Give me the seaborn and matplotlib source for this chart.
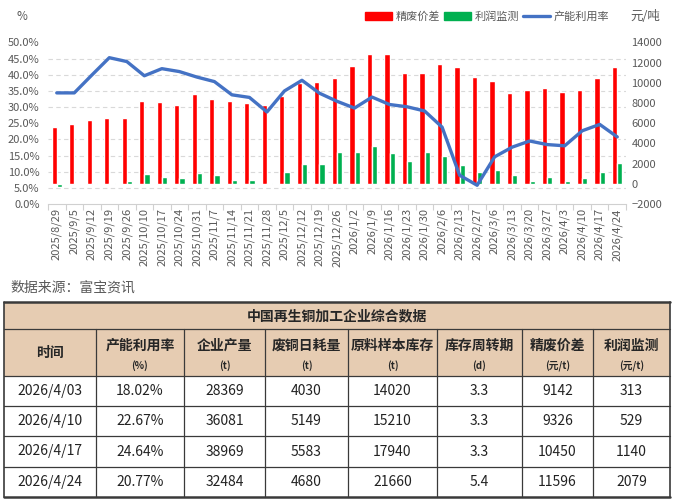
import numpy as np
import pandas as pd
import matplotlib
matplotlib.use("Agg")
import matplotlib.pyplot as plt
import seaborn as sns
from matplotlib.patches import Patch, Rectangle
from matplotlib.lines import Line2D
from matplotlib.ticker import FixedLocator

dates = ["2025/8/29", "2025/9/5", "2025/9/12", "2025/9/19", "2025/9/26", "2025/10/10",
         "2025/10/17", "2025/10/24", "2025/10/31", "2025/11/7", "2025/11/14", "2025/11/21",
         "2025/11/28", "2025/12/5", "2025/12/12", "2025/12/19", "2025/12/26", "2026/1/2",
         "2026/1/9", "2026/1/16", "2026/1/23", "2026/1/30", "2026/2/6", "2026/2/13",
         "2026/2/27", "2026/3/6", "2026/3/13", "2026/3/20", "2026/3/27", "2026/4/3",
         "2026/4/10", "2026/4/17", "2026/4/24"]
spread = [5670, 5960, 6360, 6520, 6520, 8240, 8140, 7850, 8900, 8440, 8240, 7970,
          7840, 8700, 9950, 10120, 10470, 11660, 12880, 12880, 11000, 11000, 11860, 11560,
          10600, 10230, 8990, 9280, 9450, 9142, 9326, 10450, 11596]
profit = [-340, -100, 130, 130, 320, 1000, 720, 620, 1100, 900, 420, 330,
          130, 1200, 1930, 1930, 3180, 3180, 3740, 3080, 2240, 3180, 2780, 1910,
          1160, 1330, 870, 300, 700, 313, 529, 1140, 2079]
util = [34.4, 34.4, 39.9, 45.3, 44.1, 39.7, 41.9, 41.0, 39.3, 37.9, 33.8, 33.0,
        28.5, 35.0, 38.3, 34.3, 31.8, 29.7, 33.1, 30.8, 30.1, 28.8, 23.8, 8.9,
        5.8, 14.6, 17.6, 19.5, 18.4, 18.02, 22.67, 24.64, 20.77]

table_title = "中国再生铜加工企业综合数据"
table_cols = ["时间", "产能利用率", "企业产量", "废铜日耗量", "原料样本库存", "库存周转期", "精废价差", "利润监测"]
table_units = ["", "(%)", "(t)", "(t)", "(t)", "(d)", "(元/t)", "(元/t)"]
table_rows = [
    ["2026/4/03", "18.02%", "28369", "4030", "14020", "3.3", "9142", "313"],
    ["2026/4/10", "22.67%", "36081", "5149", "15210", "3.3", "9326", "529"],
    ["2026/4/17", "24.64%", "38969", "5583", "17940", "3.3", "10450", "1140"],
    ["2026/4/24", "20.77%", "32484", "4680", "21660", "5.4", "11596", "2079"],
]

RED = "#FF0000"
GREEN = "#00B050"
BLUE = "#4472C4"
GREY = "#595959"

sns.set_style("white")
plt.rcParams["font.family"] = ["Noto Sans CJK SC", "DejaVu Sans"]

fig = plt.figure(figsize=(6.73, 5.0), dpi=100)

# table drawn in pixel coordinates
tb = fig.add_axes([0, 0, 1, 1])
tb.set_xlim(0, 673)
tb.set_ylim(500, 0)
tb.axis("off")
col_edges = [4, 96, 184, 265, 348, 437, 522, 593, 670]
row_edges = [302, 329, 376, 406, 436, 467, 497]
tb.add_patch(Rectangle((4, 302), 666, 74, facecolor="#E6CCB2", edgecolor="none"))
lc = "#3A3A3A"
for y in row_edges:
    lw = 1.8 if y in (302, 497) else 0.9
    tb.plot([4, 670], [y, y], color=lc, lw=lw)
for i, x in enumerate(col_edges):
    top = 302 if i in (0, len(col_edges) - 1) else 329
    tb.plot([x, x], [top, 497], color=lc, lw=1.2 if top == 302 else 0.9)
tb.text(337, 316, table_title, ha="center", va="center", fontsize=10, fontweight="bold")
for i, (name, unit) in enumerate(zip(table_cols, table_units)):
    cx = (col_edges[i] + col_edges[i + 1]) / 2
    if unit:
        tb.text(cx, 346, name, ha="center", va="center", fontsize=10, fontweight="bold")
        tb.text(cx, 366, unit, ha="center", va="center", fontsize=7, fontweight="bold")
    else:
        tb.text(cx, 353, name, ha="center", va="center", fontsize=10, fontweight="bold")
for r, row in enumerate(table_rows):
    cy = (row_edges[r + 2] + row_edges[r + 3]) / 2
    for i, val in enumerate(row):
        cx = (col_edges[i] + col_edges[i + 1]) / 2
        tb.text(cx, cy, val, ha="center", va="center", fontsize=10, color="#222222")

tb.text(10, 288, "数据来源：富宝资讯", ha="left", va="center", fontsize=10, color=GREY)

# chart
ax = fig.add_axes([48 / 673, 1 - 204 / 500, (626 - 48) / 673, (204 - 42.5) / 500])
df = pd.DataFrame({
    "date": dates * 2,
    "value": spread + profit,
    "series": ["精废价差"] * len(dates) + ["利润监测"] * len(dates),
})
sns.barplot(data=df, x="date", y="value", hue="series", hue_order=["精废价差", "利润监测"],
            palette=[RED, GREEN], width=0.6, saturation=1, legend=False, ax=ax, zorder=2)
ax.set_ylim(-2000, 14000)
ax.set_yticks(np.arange(-2000, 14001, 2000))
ax.yaxis.set_minor_locator(FixedLocator([-2000 + 1600 * k for k in range(1, 11)]))
ax.grid(which="minor", axis="y", color="#D9D9D9", linestyle=(0, (4, 3)), lw=0.8, zorder=0)
ax.set_axisbelow(True)
ax.set_xlabel("")
ax.set_ylabel("")
ax.set_xlim(-0.5, len(dates) - 0.5)
ax.set_xticks(np.arange(len(dates)))
ax.set_xticklabels(dates, rotation=90)
ax.xaxis.set_minor_locator(FixedLocator(np.arange(-0.5, len(dates), 1)))
ax.tick_params(axis="x", which="major", length=0, labelsize=8, labelcolor=GREY, pad=3)
ax.tick_params(axis="x", which="minor", length=4, color="#D0D0D0", width=0.8, bottom=True)
for s in ["top", "left", "right"]:
    ax.spines[s].set_visible(False)
ax.spines["bottom"].set_color("#D0D0D0")
ax.spines["bottom"].set_linewidth(0.8)

axl = ax.twinx()
sns.lineplot(x=np.arange(len(dates)), y=util, color=BLUE, lw=2.4, ax=axl)
axl.set_ylim(0, 50)
axl.set_yticks(np.arange(0, 51, 5))
axl.set_yticklabels([f"{v:.1f}%" for v in np.arange(0, 51, 5)])
axl.set_ylabel("")
for s in ["top", "left", "right", "bottom"]:
    axl.spines[s].set_visible(False)

# twinx moved the ticks; put bars' axis on the right, line's axis on the left
ax.yaxis.tick_right()
ax.tick_params(axis="y", which="both", length=0, labelsize=8, labelcolor=GREY, pad=4)
axl.yaxis.tick_left()
axl.tick_params(axis="y", length=0, labelsize=8, labelcolor=GREY, pad=6)

fig.text(22 / 673, 1 - 17 / 500, "%", ha="center", va="center", fontsize=8.5, color=GREY)
fig.text(645 / 673, 1 - 17 / 500, "元/吨", ha="center", va="center", fontsize=9, color=GREY)

handles = [Patch(color=RED), Patch(color=GREEN), Line2D([], [], color=BLUE, lw=2.4)]
fig.legend(handles, ["精废价差", "利润监测", "产能利用率"], loc="center",
           bbox_to_anchor=(487 / 673, 1 - 17 / 500), ncol=3, frameon=False, fontsize=8,
           handlelength=2.4, handleheight=0.7, handletextpad=0.3, columnspacing=0.4,
           labelcolor=GREY)

fig.savefig("out.png", dpi=100)
